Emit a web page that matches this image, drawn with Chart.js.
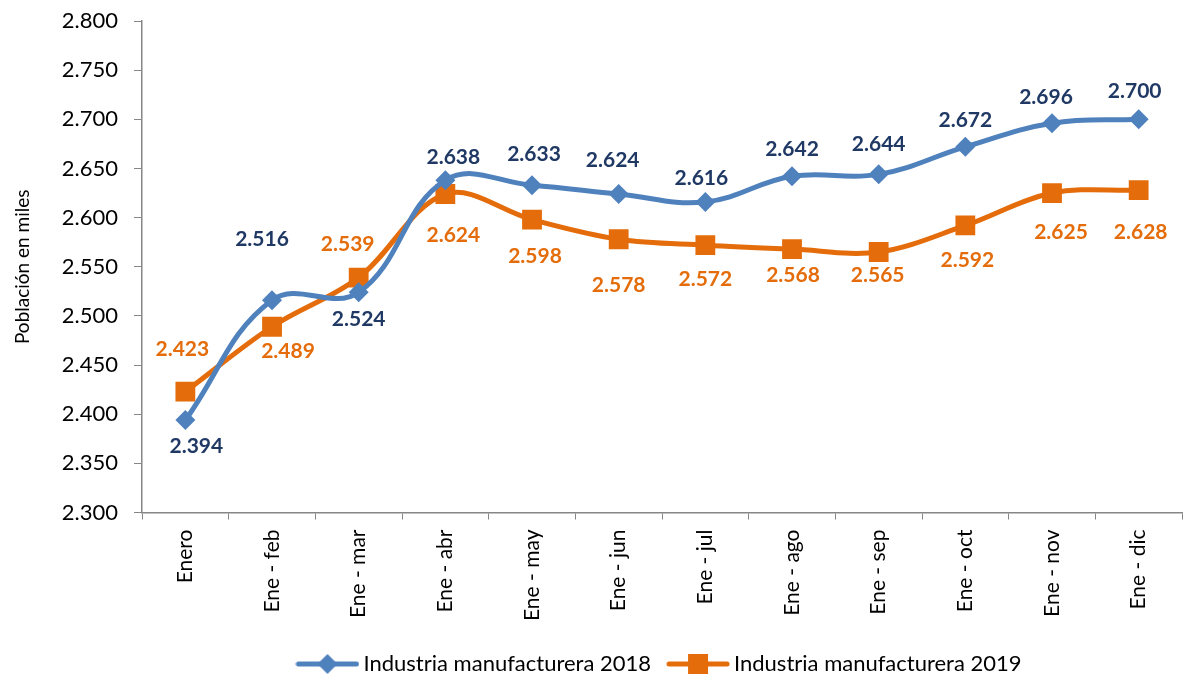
<!DOCTYPE html>
<html>
<head>
<meta charset="utf-8">
<script src="https://cdn.jsdelivr.net/npm/chart.js@4.4.1/dist/chart.umd.min.js"></script>
<style>
  html, body { margin: 0; padding: 0; background: #fff; }
  #wrap { width: 1184px; height: 676px; }
</style>
</head>
<body>
<div id="wrap"><canvas id="myChart" width="1184" height="676"></canvas></div>
<script>
const categories = ['Enero', 'Ene - feb', 'Ene - mar', 'Ene - abr', 'Ene - may', 'Ene - jun',
  'Ene - jul', 'Ene - ago', 'Ene - sep', 'Ene - oct', 'Ene - nov', 'Ene - dic'];
const values2018 = [2394, 2516, 2524, 2638, 2633, 2624, 2616, 2642, 2644, 2672, 2696, 2700];
const values2019 = [2423, 2489, 2539, 2624, 2598, 2578, 2572, 2568, 2565, 2592, 2625, 2628];
const yMin = 2300;
const yMax = 2800;
const yStep = 50;

// label placement (offset of label centre from its point)
const labelDx2018 = [11, -10, 0, 8, 2, -6, -4, 0, 0, 0, -6, -4];
const labelDy2018 = [26, -61, 27, -23, -31, -34, -24, -27, -30, -27, -26, -28];
const labelDx2019 = [-3, 16, -11, 8, 3, 0, 0, 1, -1, 2, 9, 2];
const labelDy2019 = [-42, 25, -33, 41, 37, 46, 34, 26, 23, 35, 39, 42];

const blue = '#4F81BD';
const orange = '#E46C0A';
const navy = '#1F3864';
const axisGray = '#868686';
const font = 'Lato, "Open Sans", sans-serif';

const fmt = v => (v / 1000).toFixed(3);

function legendIcon(color, shape) {
  const c = document.createElement('canvas');
  c.width = 64;
  c.height = 22;
  const g = c.getContext('2d');
  g.strokeStyle = color;
  g.lineWidth = 5;
  g.lineCap = 'round';
  g.beginPath();
  g.moveTo(3, 11);
  g.lineTo(61, 11);
  g.stroke();
  g.fillStyle = color;
  g.beginPath();
  if (shape === 'diamond') {
    g.moveTo(32, 1); g.lineTo(42, 11); g.lineTo(32, 21); g.lineTo(22, 11);
  } else {
    g.rect(22, 1, 20, 20);
  }
  g.fill();
  return c;
}

const valueLabels = {
  id: 'valueLabels',
  afterDatasetsDraw(chart) {
    const ctx = chart.ctx;
    const sets = [
      { dx: labelDx2018, dy: labelDy2018, color: navy, values: values2018 },
      { dx: labelDx2019, dy: labelDy2019, color: orange, values: values2019 }
    ];
    ctx.save();
    ctx.font = 'bold 21px ' + font;
    ctx.textAlign = 'center';
    ctx.textBaseline = 'middle';
    sets.forEach((s, i) => {
      const meta = chart.getDatasetMeta(i);
      meta.data.forEach((pt, j) => {
        ctx.fillStyle = s.color;
        ctx.fillText(fmt(s.values[j]), pt.x + s.dx[j], pt.y + s.dy[j]);
      });
    });
    ctx.restore();
  }
};

const ctx = document.querySelector('#myChart').getContext('2d');

new Chart(ctx, {
  type: 'line',
  data: {
    labels: categories,
    datasets: [{
      label: 'Industria manufacturera 2018',
      data: values2018,
      borderColor: blue,
      backgroundColor: blue,
      borderWidth: 5,
      tension: 0.4,
      pointStyle: 'rectRot',
      pointRadius: 10,
      pointHoverRadius: 10,
      pointBorderWidth: 0,
      pointBackgroundColor: blue
    }, {
      label: 'Industria manufacturera 2019',
      data: values2019,
      borderColor: orange,
      backgroundColor: orange,
      borderWidth: 5,
      tension: 0.35,
      pointStyle: 'rect',
      pointRadius: 14,
      pointHoverRadius: 14,
      pointBorderWidth: 0,
      pointBackgroundColor: orange
    }]
  },
  options: {
    responsive: false,
    animation: false,
    layout: { autoPadding: false, padding: { top: 21, right: 2, left: 7, bottom: -9 } },
    scales: {
      x: {
        offset: true,
        grid: { offset: true, drawOnChartArea: false, drawTicks: true, tickLength: 7, color: axisGray },
        border: { display: true, color: axisGray, width: 1.5 },
        ticks: { color: '#000', font: { family: font, size: 21 }, minRotation: 90, maxRotation: 90, padding: 10 }
      },
      y: {
        min: yMin,
        max: yMax,
        afterFit: s => { s.paddingTop = 13; s.paddingBottom = 13; },
        grid: { drawOnChartArea: false, drawTicks: true, tickLength: 8, color: axisGray },
        border: { display: true, color: axisGray, width: 1.5 },
        ticks: { stepSize: yStep, color: '#000', font: { family: font, size: 22 }, padding: 16, callback: v => fmt(v) },
        title: { display: true, text: 'Población en miles', color: '#000', font: { family: font, size: 19 }, padding: { bottom: 12 } }
      }
    },
    plugins: {
      legend: {
        position: 'bottom',
        fullSize: false,
        labels: {
          usePointStyle: true,
          pointStyleWidth: 50,
          padding: 22,
          color: '#000',
          font: { family: font, size: 22 },
          generateLabels: chart => chart.data.datasets.map((d, i) => ({
            text: d.label,
            datasetIndex: i,
            pointStyle: legendIcon(d.borderColor, i === 0 ? 'diamond' : 'square'),
            fontColor: '#000',
            hidden: false
          }))
        }
      },
      tooltip: { enabled: false }
    }
  },
  plugins: [valueLabels]
});
</script>
</body>
</html>
